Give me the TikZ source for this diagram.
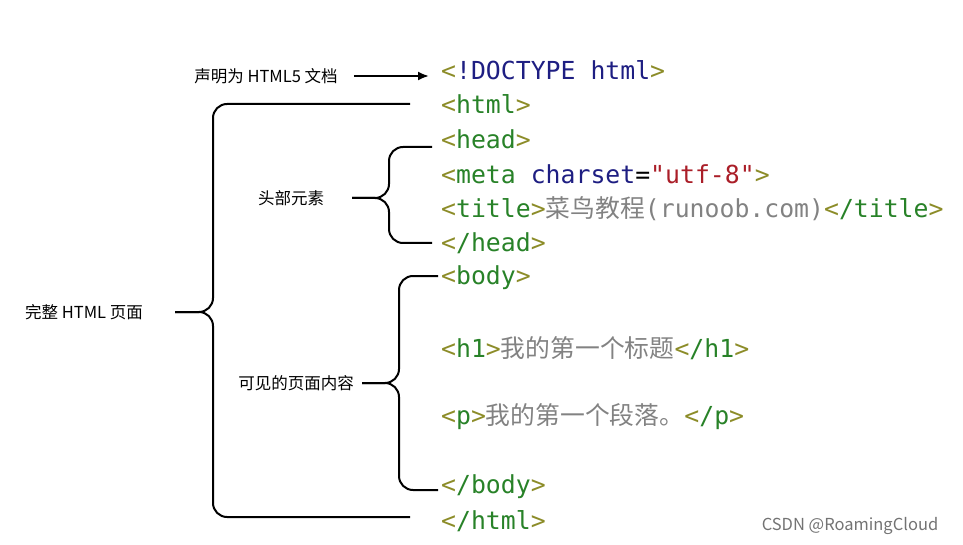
\documentclass[tikz,border=0pt]{standalone}
\usepackage{fontspec}
\setmainfont{Noto Sans CJK SC}
\newfontfamily\codefont{DejaVu Sans Mono}
\newfontfamily\cjk{Noto Sans CJK SC}
\usetikzlibrary{positioning,calc,arrows,arrows.meta}
\definecolor{brk}{RGB}{140,140,40}
\definecolor{tag}{RGB}{40,130,40}
\definecolor{kw}{RGB}{30,30,130}
\definecolor{str}{RGB}{170,30,40}
\definecolor{txt}{RGB}{130,130,130}
\newcommand{\lt}{\textcolor{brk}{<}}
\newcommand{\gt}{\textcolor{brk}{>}}
\newcommand{\tg}[1]{\textcolor{tag}{#1}}
\newcommand{\tx}[1]{\textcolor{txt}{{\cjk #1}}}
\begin{document}
\begin{tikzpicture}[x=1pt,y=-1pt,
  code/.style={anchor=west,inner sep=0pt,font=\codefont\fontsize{24.8}{25}\selectfont},
  lbl/.style={inner sep=0pt,font=\fontsize{16.5}{17}\selectfont},
  brace/.style={line width=2pt,rounded corners=14pt}]
\useasboundingbox (0,0) rectangle (963,545);

\node[code](l0) at (441,70) {\lt\textcolor{kw}{!DOCTYPE html}\gt};
\node[code](l1) at (441,104) {\lt\tg{html}\gt};
\node[code](l2) at (441,139) {\lt\tg{head}\gt};
\node[code](l3) at (441,174) {\lt\tg{meta} \textcolor{kw}{charset}=\textcolor{str}{"utf-8"}\gt};
\node[code](l4) at (441,209) {\lt\tg{title}\gt\tx{菜鸟教程}\textcolor{txt}{(runoob.com)}\lt\tg{/title}\gt};
\node[code](l5) at (441,243) {\lt\tg{/head}\gt};
\node[code](l6) at (441,278) {\lt\tg{body}\gt};
\node[code](l7) at (441,348) {\lt\tg{h1}\gt\tx{我的第一个标题}\lt\tg{/h1}\gt};
\node[code](l8) at (441,417) {\lt\tg{p}\gt\tx{我的第一个段落。}\lt\tg{/p}\gt};
\node[code](l9) at (441,487) {\lt\tg{/body}\gt};
\node[code](l10) at (441,521) {\lt\tg{/html}\gt};

\node[lbl](doc) at (266,76) {声明为 HTML5 文档};
\node[lbl](head) at (291,198) {头部元素};
\node[lbl](page) at (84,312) {完整 HTML 页面};
\node[lbl](body) at (296,383) {可见的页面内容};
\node[lbl,text=black!55](mark) at (850,526) {CSDN @RoamingCloud};

\draw[-{Latex[length=11pt,width=9pt]},line width=2pt] (doc.east)++(16,0) -- ($(l0.west)+(-12,6)$);

\draw[brace] (410,104) -- (213,104) -- (213,312) -- (175,312);
\draw[brace] (410,517) -- (213,517) -- (213,312) -- (175,312);
\draw[brace] (432,147) -- (389,147) -- (389,198) -- (352,198);
\draw[brace] (432,243) -- (389,243) -- (389,198) -- (352,198);
\draw[brace] (438,276) -- (399,276) -- (399,383) -- (362,383);
\draw[brace] (438,490) -- (399,490) -- (399,383) -- (362,383);
\end{tikzpicture}
\end{document}
